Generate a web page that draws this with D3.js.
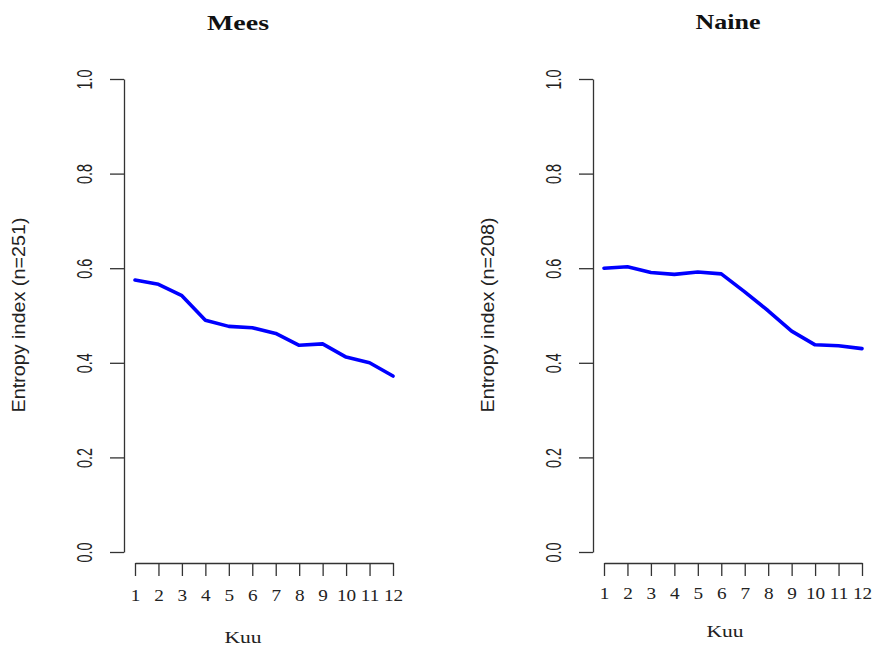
<!DOCTYPE html>
<html>
<head>
<meta charset="utf-8">
<script src="https://cdn.jsdelivr.net/npm/d3@7"></script>
<style>
  body { margin: 0; background: #fff; }
  svg { display: block; }
</style>
</head>
<body>
<svg></svg>
<script>
let months = [1, 2, 3, 4, 5, 6, 7, 8, 9, 10, 11, 12]
let yTicks = [0, 0.2, 0.4, 0.6, 0.8, 1.0]

let meesValues = [0.575, 0.566, 0.542, 0.490, 0.477, 0.474, 0.462, 0.437, 0.440, 0.412, 0.400, 0.372]
let naineValues = [0.600, 0.603, 0.591, 0.587, 0.592, 0.588, 0.550, 0.510, 0.467, 0.438, 0.436, 0.430]

let panelTitles = ['Mees', 'Naine']
let yTitles = ['Entropy index (n=251)', 'Entropy index (n=208)']
let xTitle = 'Kuu'

let width = 879
let height = 646

let svg = d3.select('svg')
  .attr('width', width)
  .attr('height', height)

let panels = [
  { values: meesValues, title: panelTitles[0], yTitle: yTitles[0], axisX: 124, x0: 135, x1: 393,
    titleX: 238, titleY: 30, titleW: 62, tickY: 601, kuuY: 643, kuuX: 243 },
  { values: naineValues, title: panelTitles[1], yTitle: yTitles[1], axisX: 593, x0: 604, x1: 862,
    titleX: 728, titleY: 29, titleW: 65, tickY: 599, kuuY: 637, kuuX: 725 }
]

let yScale = d3.scaleLinear().domain([0, 1]).range([552, 79])
let xAxisY = 563

let drawPanel = (p) => {
  let xScale = d3.scaleLinear().domain([1, 12]).range([p.x0, p.x1])

  // y axis
  let yAxis = d3.axisLeft(yScale)
    .tickValues(yTicks)
    .tickFormat(d3.format('.1f'))
    .tickSize(14)
    .tickSizeOuter(0)

  let gy = svg.append('g')
    .attr('transform', 'translate(' + p.axisX + ',0)')
    .call(yAxis)
  gy.select('.domain').attr('stroke', '#333').attr('stroke-width', 1.3)
  gy.selectAll('.tick line').attr('stroke', '#333').attr('stroke-width', 1.3)
  gy.selectAll('.tick text')
    .attr('x', null).attr('dy', null).attr('y', null)
    .attr('text-anchor', 'middle')
    .attr('font-family', '"Liberation Sans", Arial, sans-serif')
    .attr('font-size', 17)
    .attr('fill', '#222')
    .attr('textLength', 20)
    .attr('lengthAdjust', 'spacingAndGlyphs')
    .attr('transform', 'translate(-32,0) scale(1.25,1) rotate(-90)')

  // x axis
  let xAxis = d3.axisBottom(xScale)
    .tickValues(months)
    .tickFormat(d3.format('d'))
    .tickSize(13)
    .tickSizeOuter(0)

  let gx = svg.append('g')
    .attr('transform', 'translate(0,' + xAxisY + ')')
    .call(xAxis)
  gx.select('.domain').attr('stroke', '#333').attr('stroke-width', 1.3)
  gx.selectAll('.tick line').attr('stroke', '#333').attr('stroke-width', 1.3)
  gx.selectAll('.tick text')
    .attr('y', p.tickY - xAxisY).attr('dy', null)
    .attr('font-family', '"Liberation Serif", "Times New Roman", serif')
    .attr('font-size', 16)
    .attr('fill', '#222')
    .attr('transform', 'scale(1.2,1)')

  // line
  let line = d3.line()
    .x((d, i) => xScale(months[i]))
    .y((d) => yScale(d))

  svg.append('path')
    .datum(p.values)
    .attr('d', line)
    .attr('fill', 'none')
    .attr('stroke', '#0000ff')
    .attr('stroke-width', 3.6)
    .attr('stroke-linejoin', 'round')
    .attr('stroke-linecap', 'round')

  // titles
  svg.append('text')
    .attr('x', p.titleX)
    .attr('y', p.titleY)
    .attr('text-anchor', 'middle')
    .attr('font-family', '"Liberation Serif", "Times New Roman", serif')
    .attr('font-weight', 'bold')
    .attr('font-size', 21)
    .attr('fill', '#111')
    .attr('textLength', p.titleW)
    .attr('lengthAdjust', 'spacingAndGlyphs')
    .text(p.title)

  svg.append('text')
    .attr('x', p.kuuX)
    .attr('y', p.kuuY)
    .attr('text-anchor', 'middle')
    .attr('font-family', '"Liberation Serif", "Times New Roman", serif')
    .attr('font-size', 16)
    .attr('fill', '#222')
    .attr('textLength', 37)
    .attr('lengthAdjust', 'spacingAndGlyphs')
    .text(xTitle)

  svg.append('text')
    .attr('transform', 'translate(' + (p.axisX - 99) + ',315) rotate(-90)')
    .attr('text-anchor', 'middle')
    .attr('font-family', '"Liberation Sans", Arial, sans-serif')
    .attr('font-size', 18)
    .attr('fill', '#222')
    .attr('textLength', 195)
    .attr('lengthAdjust', 'spacingAndGlyphs')
    .text(p.yTitle)
}

panels.forEach(drawPanel)
</script>
</body>
</html>
